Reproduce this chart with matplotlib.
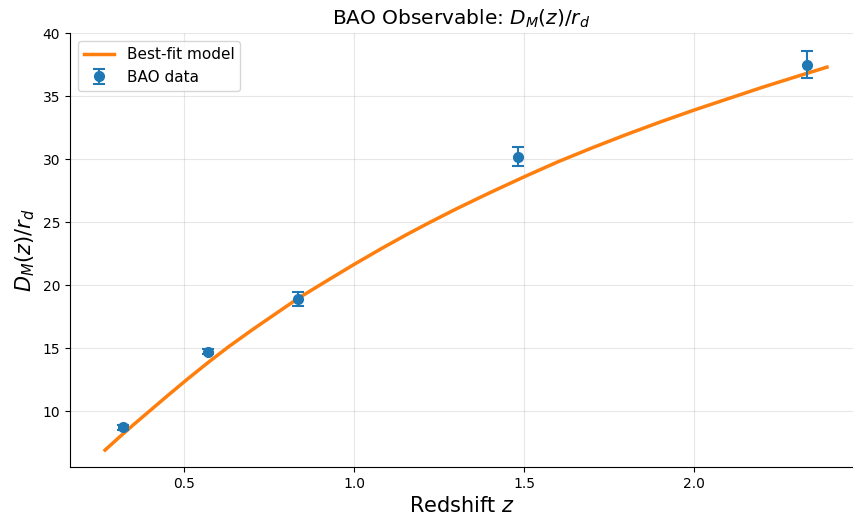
import matplotlib
matplotlib.use("Agg")
import matplotlib.pyplot as plt

# BAO data
z_data = [0.32, 0.57, 0.835, 1.48, 2.33]
dm_data = [8.7, 14.7, 18.9, 30.2, 37.5]
dm_err = [0.2, 0.2, 0.55, 0.78, 1.1]

# Best-fit model curve
z_model = [0.267, 0.31, 0.35, 0.40, 0.45, 0.51, 0.57, 0.63, 0.70, 0.77, 0.835, 0.92,
           1.0, 1.08, 1.15, 1.22, 1.3, 1.4, 1.5, 1.6, 1.7, 1.8, 1.9, 2.0, 2.1, 2.2,
           2.3, 2.39]
dm_model = [6.9, 7.95, 8.9, 10.05, 11.2, 12.55, 13.85, 15.1, 16.45, 17.75, 18.95, 20.35,
            21.65, 22.9, 23.95, 24.95, 26.05, 27.35, 28.6, 29.8, 30.9, 31.95, 32.95, 33.9,
            34.8, 35.7, 36.55, 37.3]

fig = plt.figure(figsize=(8.54, 5.26), dpi=100)
ax = fig.add_axes([0.082, 0.112, 0.917, 0.825])

ax.plot(z_model, dm_model, color="#ff7f0e", lw=2.5, label="Best-fit model", zorder=3)
ax.errorbar(z_data, dm_data, yerr=dm_err, fmt="o", color="#1f77b4", ms=7,
            capsize=4, elinewidth=1.5, capthick=1.5, label="BAO data", zorder=4)

ax.set_xlim(0.164, 2.467)
ax.set_ylim(5.55, 40.0)
ax.set_xticks([0.5, 1.0, 1.5, 2.0])
ax.set_yticks([10, 15, 20, 25, 30, 35, 40])
ax.grid(True, alpha=0.3)
ax.spines["top"].set_visible(False)
ax.spines["right"].set_visible(False)
ax.tick_params(labelsize=10)

ax.set_xlabel("Redshift $z$", fontsize=15)
ax.set_ylabel("$D_M(z)/r_d$", fontsize=15)
ax.set_title("BAO Observable: $D_M(z)/r_d$", fontsize=14.5)
ax.legend(loc="upper left", fontsize=11)

fig.savefig("out.png", dpi=100)
